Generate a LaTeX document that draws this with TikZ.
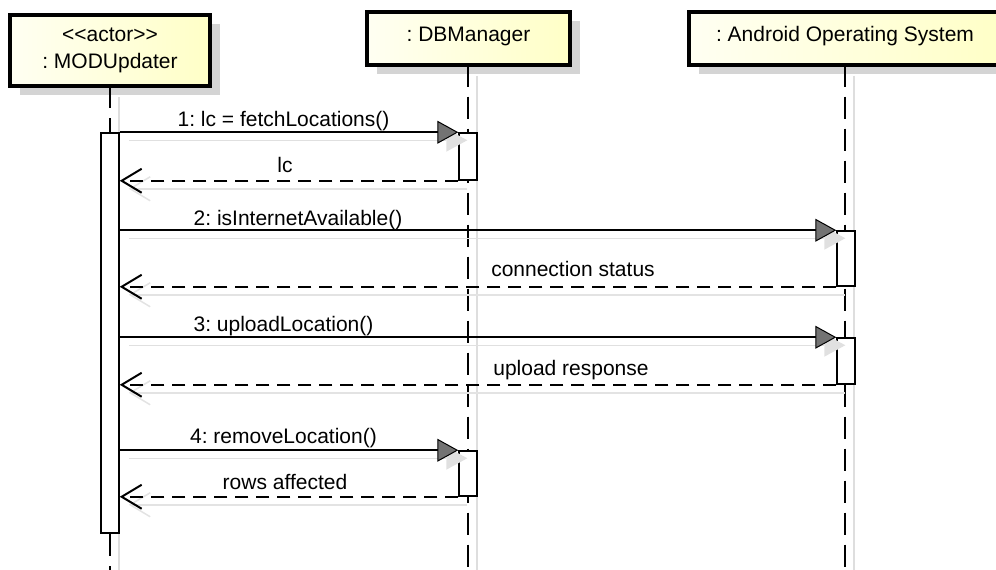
\documentclass[tikz,border=0pt]{standalone}
\usepackage{fontspec}
\setmainfont{Liberation Sans}
\usetikzlibrary{arrows.meta,shadows}
\begin{document}
\begin{tikzpicture}[x=1pt,y=-1pt,
  every node/.style={font=\fontsize{21}{27}\selectfont\frenchspacing},
  objbox/.style={draw=black, line width=4pt, left color=yellow!5, right color=yellow!22,
    drop shadow={shadow xshift=10pt, shadow yshift=-9pt, fill=black!17, opacity=1},
    inner sep=0pt, align=center},
  lifeline/.style={line width=2pt, dash pattern=on 22pt off 10pt},
  lifeshadow/.style={line width=1.2pt, black!13},
  actbar/.style={draw=black, line width=1.5pt, fill=white, minimum width=18pt, inner sep=0pt},
  msg/.style={line width=2pt, -{Triangle[length=21pt,width=23pt,line width=1pt,fill=black!55]}},
  msgshadow/.style={line width=1.5pt, black!12, -{Triangle[length=21pt,width=23pt,line width=0pt,fill=black!12]}},
  ret/.style={line width=2pt, dash pattern=on 13pt off 8pt, -{Straight Barb[length=20pt,width=24pt,line width=2pt]}},
  retshadow/.style={line width=1.5pt, black!11, -{Straight Barb[length=20pt,width=24pt,line width=1.5pt]}},
  lbl/.style={anchor=base, inner sep=0pt}
]
\useasboundingbox (0,0) rectangle (996,570);
\clip (0,0) rectangle (996,570);
\coordinate (bot) at (0,575);

% object boxes
\node[objbox, minimum width=200pt, minimum height=71pt] (mod) at (110,50.5) {\mbox{<}\mbox{<}actor\mbox{>}\mbox{>}\\: MODUpdater};
\node[objbox, minimum width=203pt, minimum height=52.5pt, text height=15pt, text depth=8pt] (db) at (468.5,38.25) {: DBManager};
\node[objbox, minimum width=312pt, minimum height=52.5pt, text height=15pt, text depth=8pt] (aos) at (845,38.25) {: Android Operating System};

% lifeline coordinates
\coordinate (modl) at (110,86);
\coordinate (dbl) at (468,64.5);
\coordinate (aosl) at (845,64.5);

% lifeline shadows
\draw[lifeshadow] ([xshift=9pt,yshift=-11pt]modl) -- ([xshift=9pt]modl |- bot);
\draw[lifeshadow] ([xshift=9pt,yshift=-11pt]dbl) -- ([xshift=9pt]dbl |- bot);
\draw[lifeshadow] ([xshift=9pt,yshift=-11pt]aosl) -- ([xshift=9pt]aosl |- bot);

% lifelines
\draw[lifeline] (modl) -- (modl |- bot);
\draw[lifeline] (dbl) -- (dbl |- bot);
\draw[lifeline] (aosl) -- (aosl |- bot);

% activation bars
\node[actbar, minimum height=400pt] (modbar) at (110,333) {};
\node[actbar, minimum height=47pt] (db1) at (468,156.5) {};
\node[actbar, minimum height=55pt] (ao1) at (846,258.5) {};
\node[actbar, minimum height=46pt] (ao2) at (846,361) {};
\node[actbar, minimum height=45pt] (db2) at (468,473.5) {};

% message end points on the caller bar
\coordinate (s1) at (modbar.east |- db1.north);
\coordinate (e1) at (modbar.east |- db1.south);
\coordinate (s2) at (modbar.east |- ao1.north);
\coordinate (e2) at (modbar.east |- ao1.south);
\coordinate (s3) at (modbar.east |- ao2.north);
\coordinate (e3) at (modbar.east |- ao2.south);
\coordinate (s4) at (modbar.east |- db2.north);
\coordinate (e4) at (modbar.east |- db2.south);

% shadows of messages
\draw[msgshadow] ([shift={(9,8)}]s1) -- ([shift={(9,8)}]db1.north west);
\draw[retshadow] ([shift={(9,8)}]db1.south west) -- ([shift={(9,8)}]e1);
\draw[msgshadow] ([shift={(9,8)}]s2) -- ([shift={(9,8)}]ao1.north west);
\draw[retshadow] ([shift={(9,8)}]ao1.south west) -- ([shift={(9,8)}]e2);
\draw[msgshadow] ([shift={(9,8)}]s3) -- ([shift={(9,8)}]ao2.north west);
\draw[retshadow] ([shift={(9,8)}]ao2.south west) -- ([shift={(9,8)}]e3);
\draw[msgshadow] ([shift={(9,8)}]s4) -- ([shift={(9,8)}]db2.north west);
\draw[retshadow] ([shift={(9,8)}]db2.south west) -- ([shift={(9,8)}]e4);

% messages
\draw[msg] (s1) -- (db1.north west);
\draw[ret] (db1.south west) -- (e1);
\draw[msg] (s2) -- (ao1.north west);
\draw[ret] (ao1.south west) -- (e2);
\draw[msg] (s3) -- (ao2.north west);
\draw[ret] (ao2.south west) -- (e3);
\draw[msg] (s4) -- (db2.north west);
\draw[ret] (db2.south west) -- (e4);

% labels
\node[lbl] (l1) at (283.5,126.7) {1: lc = fetchLocations()};
\node[lbl] (r1) at (285,172) {lc};
\node[lbl] (l2) at (298,225) {2: isInternetAvailable()};
\node[lbl] (r2) at (573,276.7) {connection status};
\node[lbl] (l3) at (283.5,331.7) {3: uploadLocation()};
\node[lbl] (r3) at (571,375) {upload response};
\node[lbl] (l4) at (283.5,443.3) {4: removeLocation()};
\node[lbl] (r4) at (285,489.3) {rows affected};
\end{tikzpicture}
\end{document}
